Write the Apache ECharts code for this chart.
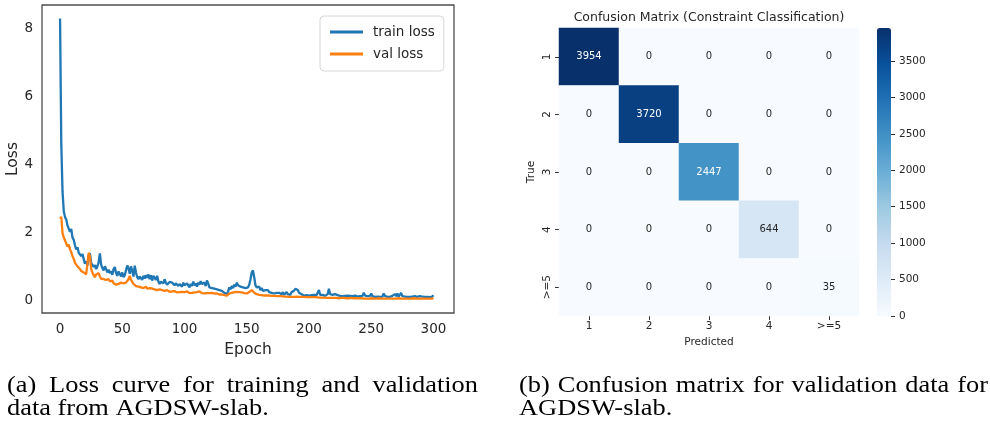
<!DOCTYPE html>
<html>
<head>
<meta charset="utf-8">
<script src="https://cdn.jsdelivr.net/npm/echarts@6/dist/echarts.min.js"></script>
<style>
  html, body { margin: 0; padding: 0; background: #ffffff; }
  #chart { width: 990px; height: 425px; }
</style>
</head>
<body>
<div id="chart"></div>
<script>
// ---- Loss curves (one value per epoch, epochs 0..300) ----
const trainLoss = [
  8.30, 4.60, 3.20, 2.62, 2.45, 2.38, 2.20, 2.16, 2.02, 2.10,
  1.85, 1.78, 1.62, 1.50, 1.56, 1.40, 1.38, 1.30, 1.36, 1.22,
  1.08, 1.15, 1.02, 1.32, 1.38, 1.10, 1.05, 0.98, 1.04, 0.92,
  1.00, 1.12, 1.38, 1.05, 0.95, 0.88, 1.00, 0.92, 0.82, 0.90,
  0.80, 0.86, 0.75, 0.92, 0.98, 0.80, 0.72, 0.85, 0.78, 0.70,
  0.82, 0.68, 0.74, 0.88, 1.02, 0.95, 0.78, 1.00, 0.86, 0.70,
  1.02, 0.82, 0.68, 0.62, 0.70, 0.66, 0.60, 0.72, 0.64, 0.74,
  0.66, 0.76, 0.62, 0.74, 0.58, 0.72, 0.66, 0.60, 0.72, 0.55,
  0.48, 0.55, 0.60, 0.50, 0.62, 0.52, 0.46, 0.50, 0.54, 0.58,
  0.52, 0.48, 0.44, 0.50, 0.46, 0.42, 0.48, 0.44, 0.40, 0.52,
  0.44, 0.40, 0.50, 0.46, 0.38, 0.48, 0.42, 0.55, 0.44, 0.50,
  0.40, 0.52, 0.46, 0.56, 0.48, 0.44, 0.52, 0.42, 0.58, 0.50,
  0.38, 0.42, 0.36, 0.40, 0.34, 0.38, 0.32, 0.36, 0.30, 0.34,
  0.28, 0.26, 0.22, 0.20, 0.18, 0.26, 0.38, 0.32, 0.42, 0.36,
  0.46, 0.40, 0.52, 0.44, 0.48, 0.40, 0.44, 0.38, 0.34, 0.36,
  0.32, 0.38, 0.46, 0.62, 0.82, 0.88, 0.68, 0.44, 0.38, 0.34,
  0.40, 0.30, 0.36, 0.28, 0.32, 0.30, 0.26, 0.30, 0.24, 0.26,
  0.22, 0.26, 0.20, 0.24, 0.22, 0.18, 0.22, 0.20, 0.18, 0.24,
  0.16, 0.20, 0.24, 0.18, 0.22, 0.16, 0.24, 0.20, 0.28, 0.34,
  0.38, 0.30, 0.22, 0.20, 0.18, 0.16, 0.14, 0.18, 0.15, 0.16,
  0.14, 0.16, 0.15, 0.14, 0.16, 0.13, 0.15, 0.14, 0.30, 0.16,
  0.14, 0.16, 0.15, 0.13, 0.14, 0.18, 0.34, 0.18, 0.15, 0.16,
  0.14, 0.18, 0.13, 0.15, 0.17, 0.13, 0.14, 0.12, 0.15, 0.13,
  0.12, 0.14, 0.12, 0.13, 0.15, 0.12, 0.11, 0.14, 0.12, 0.11,
  0.13, 0.12, 0.11, 0.13, 0.22, 0.14, 0.11, 0.12, 0.10, 0.13,
  0.20, 0.12, 0.11, 0.10, 0.12, 0.11, 0.13, 0.10, 0.12, 0.11,
  0.20, 0.13, 0.11, 0.10, 0.12, 0.10, 0.11, 0.13, 0.10, 0.18,
  0.12, 0.20, 0.11, 0.14, 0.22, 0.12, 0.10, 0.11, 0.13, 0.10,
  0.12, 0.10, 0.15, 0.11, 0.10, 0.12, 0.14, 0.10, 0.11, 0.12,
  0.10, 0.11, 0.13, 0.10, 0.12, 0.10, 0.11, 0.09, 0.12, 0.11,
  0.15
];

const valLoss = [
  2.40, 2.46, 1.98, 1.85, 1.76, 1.72, 1.58, 1.64, 1.50, 1.42,
  1.30, 1.22, 1.10, 1.05, 1.00, 0.96, 0.92, 0.86, 0.90, 0.82,
  0.80, 0.76, 0.78, 1.40, 1.30, 0.92, 0.82, 0.74, 0.68, 0.76,
  0.72, 0.80, 0.70, 0.64, 0.68, 0.62, 0.66, 0.60, 0.58, 0.62,
  0.56, 0.54, 0.58, 0.50, 0.52, 0.46, 0.50, 0.48, 0.44, 0.52,
  0.48, 0.50, 0.46, 0.52, 0.56, 0.62, 0.72, 0.60, 0.54, 0.48,
  0.46, 0.42, 0.44, 0.40, 0.42, 0.38, 0.40, 0.36, 0.38, 0.40,
  0.34, 0.38, 0.36, 0.40, 0.34, 0.38, 0.32, 0.36, 0.30, 0.34,
  0.32, 0.28, 0.30, 0.32, 0.28, 0.26, 0.30, 0.27, 0.25, 0.28,
  0.26, 0.24, 0.27, 0.25, 0.23, 0.26, 0.24, 0.22, 0.25, 0.23,
  0.24, 0.22, 0.26, 0.23, 0.21, 0.24, 0.22, 0.25, 0.23, 0.28,
  0.24, 0.22, 0.26, 0.23, 0.21, 0.23, 0.20, 0.22, 0.21, 0.20,
  0.21, 0.20, 0.22, 0.19, 0.20, 0.18, 0.20, 0.19, 0.17, 0.18,
  0.17, 0.16, 0.15, 0.14, 0.14, 0.16, 0.20, 0.18, 0.22, 0.20,
  0.24, 0.22, 0.25, 0.22, 0.24, 0.21, 0.23, 0.20, 0.21, 0.22,
  0.20, 0.22, 0.24, 0.26, 0.30, 0.27, 0.22, 0.20, 0.18, 0.17,
  0.16, 0.17, 0.15, 0.16, 0.14, 0.15, 0.14, 0.13, 0.14, 0.13,
  0.13, 0.12, 0.13, 0.12, 0.12, 0.11, 0.12, 0.11, 0.12, 0.11,
  0.11, 0.10, 0.11, 0.12, 0.10, 0.11, 0.10, 0.11, 0.10, 0.12,
  0.11, 0.10, 0.10, 0.09, 0.10, 0.09, 0.10, 0.09, 0.09, 0.10,
  0.09, 0.08, 0.09, 0.08, 0.09, 0.08, 0.09, 0.08, 0.08, 0.09,
  0.08, 0.07, 0.08, 0.08, 0.07, 0.08, 0.07, 0.08, 0.07, 0.07,
  0.07, 0.08, 0.07, 0.07, 0.06, 0.07, 0.07, 0.06, 0.07, 0.06,
  0.06, 0.07, 0.06, 0.06, 0.07, 0.06, 0.06, 0.05, 0.06, 0.06,
  0.06, 0.05, 0.06, 0.06, 0.05, 0.06, 0.05, 0.06, 0.05, 0.05,
  0.06, 0.05, 0.05, 0.06, 0.05, 0.05, 0.06, 0.05, 0.05, 0.05,
  0.05, 0.06, 0.05, 0.05, 0.05, 0.06, 0.05, 0.05, 0.05, 0.05,
  0.05, 0.05, 0.06, 0.05, 0.05, 0.05, 0.05, 0.06, 0.05, 0.05,
  0.05, 0.05, 0.05, 0.05, 0.06, 0.05, 0.05, 0.05, 0.05, 0.05,
  0.05, 0.05, 0.05, 0.05, 0.05, 0.05, 0.05, 0.05, 0.05, 0.05,
  0.06
];

const epochTicks = [0, 50, 100, 150, 200, 250, 300];
const lossTicks = [0, 2, 4, 6, 8];

// ---- Confusion matrix (rows: true class, columns: predicted class) ----
const classes = ['1', '2', '3', '4', '>=5'];
const confusion = [
  [3954, 0, 0, 0, 0],
  [0, 3720, 0, 0, 0],
  [0, 0, 2447, 0, 0],
  [0, 0, 0, 644, 0],
  [0, 0, 0, 0, 35]
];
const colorbarTicks = [0, 500, 1000, 1500, 2000, 2500, 3000, 3500];

// ---- Sub-figure captions ----
const captionA = ['(a) Loss curve for training and validation', 'data from AGDSW-slab.'];
const captionB = ['(b) Confusion matrix for validation data for', 'AGDSW-slab.'];

// matplotlib "Blues" colormap stops
const blues = ['#f7fbff', '#deebf7', '#c6dbef', '#9ecae1', '#6baed6',
               '#4292c6', '#2171b5', '#08519c', '#08306b'];

const SANS = '"DejaVu Sans", sans-serif';
const SERIF = '"Liberation Serif", serif';
const TEXT = '#262626';

const confMax = Math.max(...confusion.flat());
const heatData = [];
confusion.forEach((row, r) => {
  row.forEach((v, c) => {
    heatData.push({
      value: [c, r, v],
      label: { color: v > confMax * 0.5 ? '#ffffff' : TEXT }
    });
  });
});

// Caption typesetting: a justified line spreads its words between x0 and x1,
// a ragged line is simply set from x0. Glyphs are widened slightly (sx).
const CAP_FONT = '24px ' + SERIF;
const CAP_SX = 1.1;
const measureCtx = document.createElement('canvas').getContext('2d');
function textWidth(t, font) { measureCtx.font = font; return measureCtx.measureText(t).width; }
function captionWord(t, x, y) {
  return { type: 'text', x: x, y: y, scaleX: CAP_SX, silent: true,
           style: { text: t, fill: '#000000', font: CAP_FONT, align: 'left', verticalAlign: 'middle' } };
}
function justifiedLine(t, x0, x1, y) {
  const words = t.split(' ');
  const widths = words.map(w => textWidth(w, CAP_FONT) * CAP_SX);
  const total = widths.reduce((a, b) => a + b, 0);
  const gap = (x1 - x0 - total) / (words.length - 1);
  const out = [];
  let x = x0;
  words.forEach((w, i) => { out.push(captionWord(w, x, y)); x += widths[i] + gap; });
  return out;
}

const chart = echarts.init(document.getElementById('chart'), null, { renderer: 'canvas' });

chart.setOption({
  animation: false,
  backgroundColor: '#ffffff',
  textStyle: { fontFamily: SANS },
  grid: [
    { left: 42, top: 5, width: 412, height: 308, show: true,
      borderColor: '#4d4d4d', borderWidth: 1.3, backgroundColor: '#ffffff',
      outerBoundsMode: 'none' },
    { left: 559, top: 28, width: 300, height: 288, outerBoundsMode: 'none' },
    { left: 877, top: 28, width: 14, height: 288, outerBoundsMode: 'none' }
  ],
  xAxis: [
    {
      gridIndex: 0, type: 'value', min: -14.5, max: 316.5,
      axisLine: { show: false }, axisTick: { show: false }, splitLine: { show: false },
      axisLabel: { customValues: epochTicks, fontSize: 13.5, color: TEXT, margin: 9, fontFamily: SANS },
      name: 'Epoch', nameLocation: 'middle', nameGap: 29,
      nameTextStyle: { fontSize: 15.5, color: TEXT, fontFamily: SANS }
    },
    {
      gridIndex: 1, type: 'category', data: classes,
      axisLine: { show: false },
      axisTick: { show: true, alignWithLabel: true, length: 4, lineStyle: { color: '#333333', width: 1 } },
      axisLabel: { fontSize: 10.5, color: TEXT, margin: 5, fontFamily: SANS },
      splitLine: { show: false },
      name: 'Predicted', nameLocation: 'middle', nameGap: 21,
      nameTextStyle: { fontSize: 10.5, color: TEXT, fontFamily: SANS }
    },
    { gridIndex: 2, type: 'category', data: ['bar'], show: false }
  ],
  yAxis: [
    {
      gridIndex: 0, type: 'value', min: -0.375, max: 8.7,
      axisLine: { show: false }, axisTick: { show: false }, splitLine: { show: false },
      axisLabel: { customValues: lossTicks, fontSize: 13.5, color: TEXT, margin: 9, fontFamily: SANS },
      name: 'Loss', nameLocation: 'middle', nameGap: 20, nameRotate: 90,
      nameTextStyle: { fontSize: 15.5, color: TEXT, fontFamily: SANS }
    },
    {
      gridIndex: 1, type: 'category', data: classes, inverse: true,
      axisLine: { show: false },
      axisTick: { show: true, alignWithLabel: true, length: 4, lineStyle: { color: '#333333', width: 1 } },
      axisLabel: { rotate: 90, fontSize: 10.5, color: TEXT, margin: 6, fontFamily: SANS },
      splitLine: { show: false },
      name: 'True', nameLocation: 'middle', nameGap: 22, nameRotate: 90,
      nameTextStyle: { fontSize: 10.5, color: TEXT, fontFamily: SANS }
    },
    {
      gridIndex: 2, type: 'value', position: 'right', min: 0, max: confMax,
      axisLine: { show: false }, splitLine: { show: false },
      axisTick: { show: true, customValues: colorbarTicks, length: 4, lineStyle: { color: '#333333', width: 1 } },
      axisLabel: { customValues: colorbarTicks, fontSize: 10.5, color: TEXT, margin: 8, fontFamily: SANS,
                   formatter: v => String(v) }
    }
  ],
  visualMap: {
    type: 'continuous', min: 0, max: confMax, seriesIndex: 2,
    inRange: { color: blues },
    calculable: false, hoverLink: false,
    orient: 'vertical', left: 877, top: 28, padding: 0,
    itemWidth: 14, itemHeight: 288,
    text: null, show: true
  },
  legend: {
    data: ['train loss', 'val loss'],
    orient: 'vertical', left: 320, top: 16,
    padding: [8, 9, 9, 10], itemGap: 6,
    itemWidth: 33, itemHeight: 3, icon: 'rect',
    backgroundColor: '#ffffff', borderColor: '#d6d6d6', borderWidth: 1, borderRadius: 4,
    textStyle: { fontSize: 13.5, color: TEXT, fontFamily: SANS, padding: [0, 0, 0, 5], lineHeight: 16 }
  },
  series: [
    {
      name: 'train loss', type: 'line', xAxisIndex: 0, yAxisIndex: 0,
      data: trainLoss.map((v, i) => [i, v]),
      showSymbol: false, symbol: 'none',
      lineStyle: { color: '#1f77b4', width: 2.3 }, itemStyle: { color: '#1f77b4' },
      z: 2
    },
    {
      name: 'val loss', type: 'line', xAxisIndex: 0, yAxisIndex: 0,
      data: valLoss.map((v, i) => [i, v]),
      showSymbol: false, symbol: 'none',
      lineStyle: { color: '#ff7f0e', width: 2.3 }, itemStyle: { color: '#ff7f0e' },
      z: 3
    },
    {
      name: 'confusion', type: 'heatmap', xAxisIndex: 1, yAxisIndex: 1,
      data: heatData,
      itemStyle: { borderWidth: 0 },
      label: { show: true, fontSize: 10, fontFamily: SANS,
               formatter: p => String(p.value[2]) },
      emphasis: { disabled: true }
    },
    {
      name: 'colorbar-axis', type: 'scatter', xAxisIndex: 2, yAxisIndex: 2,
      data: [], silent: true
    }
  ],
  graphic: [
    { type: 'text', x: 709, y: 18,
      style: { text: 'Confusion Matrix (Constraint Classification)', fill: TEXT,
               font: '12.5px ' + SANS, align: 'center', verticalAlign: 'middle' } },
    ...justifiedLine(captionA[0], 7, 478, 386),
    captionWord(captionA[1], 7, 409),
    ...justifiedLine(captionB[0], 519, 988, 386),
    captionWord(captionB[1], 519, 409)
  ]
});
</script>
</body>
</html>
